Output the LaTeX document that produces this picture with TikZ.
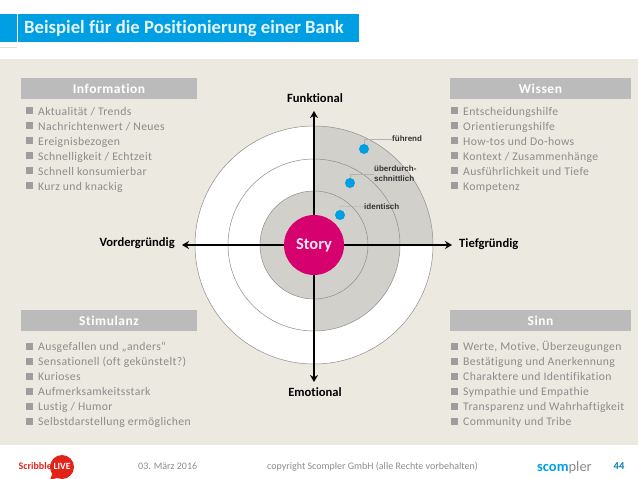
\documentclass[tikz,border=0pt]{standalone}
\usepackage{fontspec}
\setmainfont{Carlito}[RawFeature={-liga;-clig;-dlig}]
\newfontfamily\lbl{Liberation Sans}
\definecolor{beige}{HTML}{ECE9E0}
\definecolor{ringgray}{HTML}{D2D0CB}
\definecolor{headgray}{HTML}{BBBBBB}
\definecolor{itemgray}{HTML}{8C8C8C}
\definecolor{bankblue}{HTML}{009FE3}
\definecolor{storypink}{HTML}{D6006E}
\definecolor{logored}{HTML}{E2231A}
\tikzset{
	headbox/.style={fill=headgray,minimum height=21pt,inner sep=0pt,text=white,font=\addfontfeature{LetterSpace=4}\fontsize{13.5}{13.5}\selectfont\bfseries},
	itemtext/.style={anchor=base west,inner sep=0pt,text=itemgray,font=\addfontfeature{LetterSpace=3}\fontsize{11.7}{12}\selectfont},
	bulletbox/.style={fill=itemgray!85,minimum size=7pt,inner sep=0pt},
	axislabel/.style={inner sep=0pt,font=\fontsize{12.6}{13}\selectfont\bfseries},
	axisline/.style={line width=2.4pt,-{Stealth[length=7pt,width=8pt]}},
	ring/.style={draw=black!45,line width=0.5pt},
	leader/.style={draw=black!30,line width=0.4pt},
	dotnode/.style={circle,fill=bankblue,minimum size=10pt,inner sep=0pt},
	leveltext/.style={anchor=west,inner sep=0pt,align=left,font=\lbl\fontsize{8}{10}\selectfont\bfseries,text=black!80},
	foottext/.style={anchor=base west,inner sep=0pt,text=itemgray,font=\fontsize{10}{10}\selectfont}
}
\usetikzlibrary{arrows.meta}
\begin{document}
\begin{tikzpicture}[x=1pt,y=-1pt]
	\useasboundingbox (0,0) rectangle (638,479);
	% title
	\fill[bankblue] (0,14) rectangle (17,42);
	\fill[bankblue] (18,14) rectangle (359,42);
	\draw[black!12,line width=0.4pt] (0,47)--(17,47);
	\node[anchor=west,inner sep=0pt,text=white!90!bankblue,font=\fontsize{18.7}{19}\selectfont\bfseries] (title) at (24,29) {Beispiel für die Positionierung einer Bank};
	\fill[beige] (0,59) rectangle (638,445);
	% rings
	\coordinate (M) at (314,245);
	\fill[white] (M) circle (119);
	\fill[ringgray] (M) -- (314,126) arc (90:0:119 and -119) -- cycle;
	\fill[ringgray] (M) -- (400,245) arc (0:-90:86 and -86) -- cycle;
	\fill[ringgray] (M) -- (314,159) arc (90:0:86 and -86) -- cycle;
	\fill[ringgray] (M) circle (54);
	\foreach \r in {119,86,54} \draw[ring] (M) circle (\r);
	% axes
	\node[axislabel] (funk) at (315,98) {Funktional};
	\node[axislabel] (emot) at (315,392) {Emotional};
	\node[axislabel,anchor=east] (vord) at (175,243) {Vordergründig};
	\node[axislabel,anchor=west] (tief) at (459,244) {Tiefgründig};
	\node[circle,fill=storypink,minimum size=60pt,inner sep=0pt,text=white!90!storypink,font=\fontsize{16.5}{17}\selectfont\bfseries] (story) at (M) {Story};
	\coordinate (N) at (314,111);
	\coordinate (S) at (314,382);
	\coordinate (W) at (182,245);
	\coordinate (E) at (452,245);
	\foreach \ende in {N,S,W,E} \draw[axisline] (story)--(\ende);
	% levels
	\node[dotnode] (d1) at (364,149) {};
	\node[dotnode] (d2) at (350,183) {};
	\node[dotnode] (d3) at (340,215) {};
	\node[leveltext] (l1) at (392,139) {führend};
	\node[leveltext] (l2) at (374,174) {überdurch-\\schnittlich};
	\node[leveltext] (l3) at (364,207) {identisch};
	\draw[leader] (d1.north)--(364,139)--(l1.west);
	\draw[leader] (d2.north)--(350,174)--(l2.west);
	\draw[leader] (d3.north)--(340,206)--(l3.west);
	% panels
	\node[headbox,minimum width=176pt] (info) at (109,88.5) {Information};
	\node[headbox,minimum width=176pt] (stim) at (109,320.5) {Stimulanz};
	\node[headbox,minimum width=181pt] (wiss) at (540.5,88.5) {Wissen};
	\node[headbox,minimum width=181pt] (sinn) at (540.5,320.5) {Sinn};
	\foreach \txt [count=\i] in {Aktualität / Trends,Nachrichtenwert / Neues,Ereignisbezogen,Schnelligkeit / Echtzeit,Schnell konsumierbar,Kurz und knackig} {
		\node[bulletbox] (ib\i) at (29.5,95.5+15*\i) {};
		\node[itemtext] (it\i) at (38,100+15*\i) {\txt};
	}
	\foreach \txt [count=\i] in {Ausgefallen und „anders“,Sensationell (oft gekünstelt?),Kurioses,Aufmerksamkeitsstark,Lustig / Humor,Selbstdarstellung ermöglichen} {
		\node[bulletbox] (sb\i) at (29.5,331+15*\i) {};
		\node[itemtext] (st\i) at (38,335+15*\i) {\txt};
	}
	\foreach \txt [count=\i] in {Entscheidungshilfe,Orientierungshilfe,How-tos und Do-hows,Kontext / Zusammenhänge,Ausführlichkeit und Tiefe,Kompetenz} {
		\node[bulletbox] (wb\i) at (454.5,95.5+15*\i) {};
		\node[itemtext] (wt\i) at (463,100+15*\i) {\txt};
	}
	\foreach \txt [count=\i] in {{Werte, Motive, Überzeugungen},Bestätigung und Anerkennung,Charaktere und Identifikation,Sympathie und Empathie,Transparenz und Wahrhaftigkeit,Community und Tribe} {
		\node[bulletbox] (nb\i) at (454.5,331+15*\i) {};
		\node[itemtext] (nt\i) at (463,335+15*\i) {\txt};
	}
	% footer
	\fill[logored] (62,467) circle (12);
	\fill[logored] (53,472)--(50,480)--(60,477)--cycle;
	\node[inner sep=0pt,anchor=east,text=logored,font=\fontsize{10}{10}\selectfont\bfseries] (scrib) at (52,466) {Scribble};
	\node[inner sep=0pt,text=white,font=\fontsize{9.5}{10}\selectfont\bfseries] (live) at (62,466) {LIVE};
	\node[foottext] (datum) at (138,469.5) {03. März 2016};
	\node[foottext] (copy) at (267,469.5) {copyright Scompler GmbH (alle Rechte vorbehalten)};
	\node[inner sep=0pt,anchor=base west,font=\fontsize{14.5}{15}\selectfont] (logo) at (537,471) {\textcolor{bankblue}{\textbf{scom}}\textcolor{itemgray}{pler}};
	\node[inner sep=0pt,text=bankblue!80!black,font=\fontsize{10.5}{10.5}\selectfont\bfseries] (seite) at (619,466) {44};
\end{tikzpicture}
\end{document}
